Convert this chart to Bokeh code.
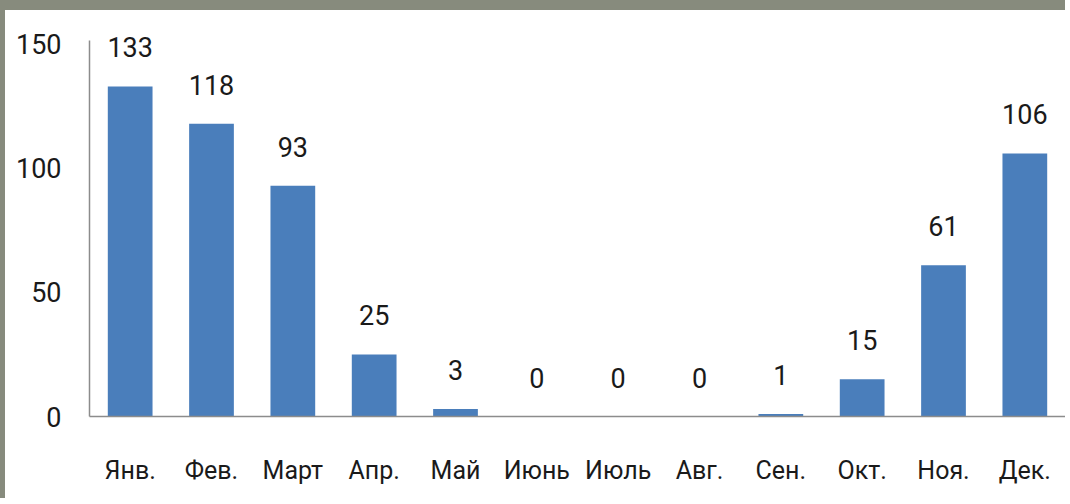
from bokeh.plotting import figure
from bokeh.models import Range1d, FactorRange, ColumnDataSource
from bokeh.embed import file_html
from bokeh.resources import INLINE
from bokeh.core.properties import value

months = ["Янв.", "Фев.", "Март", "Апр.", "Май", "Июнь", "Июль", "Авг.", "Сен.", "Окт.", "Ноя.", "Дек."]
counts = [133, 118, 93, 25, 3, 0, 0, 0, 1, 15, 61, 106]
y_ticks = [0, 50, 100, 150]

FONT = "Roboto"
NUM_SIZE = "27px"
CAT_SIZE = "25px"
BAR = "#4A7EBB"
AXIS = "#8C8C8C"
TXT = "#1a1a1a"
FRAME_GREY = "#878B7D"

src = ColumnDataSource(dict(m=months, v=counts, t=[str(c) for c in counts]))

p = figure(width=1065, height=498,
           x_range=FactorRange(*months, range_padding=0),
           y_range=Range1d(0, 160),
           output_backend="svg", toolbar_location=None,
           min_border_left=84, min_border_right=5,
           min_border_top=9, min_border_bottom=92)
p.styles = {"border-top": f"10px solid {FRAME_GREY}",
            "border-left": f"5px solid {FRAME_GREY}"}

p.vbar(x="m", top="v", width=0.55, source=src, fill_color=BAR, line_color=None)
p.text(x="m", y="v", text="t", source=src, y_offset=-39,
       text_align="center", text_baseline="alphabetic",
       text_font=value(FONT), text_font_size=NUM_SIZE, text_color=TXT)

p.outline_line_color = None
p.xgrid.grid_line_color = None
p.ygrid.grid_line_color = None
p.background_fill_color = "white"
p.border_fill_color = "white"

p.yaxis.ticker = y_ticks
p.yaxis.bounds = (0, 151.5)
p.yaxis.major_tick_line_color = None
p.yaxis.minor_tick_line_color = None
p.yaxis.axis_line_color = AXIS
p.yaxis.axis_line_width = 1.5
p.yaxis.major_label_standoff = 22
p.yaxis.major_label_text_font = FONT
p.yaxis.major_label_text_font_size = NUM_SIZE
p.yaxis.major_label_text_color = TXT

p.xaxis.major_tick_line_color = None
p.xaxis.minor_tick_line_color = None
p.xaxis.axis_line_color = AXIS
p.xaxis.axis_line_width = 1.5
p.xaxis.major_label_standoff = 33
p.xaxis.major_label_text_font = FONT
p.xaxis.major_label_text_font_size = CAT_SIZE
p.xaxis.major_label_text_color = TXT

open("out.html", "w").write(file_html(p, INLINE))
